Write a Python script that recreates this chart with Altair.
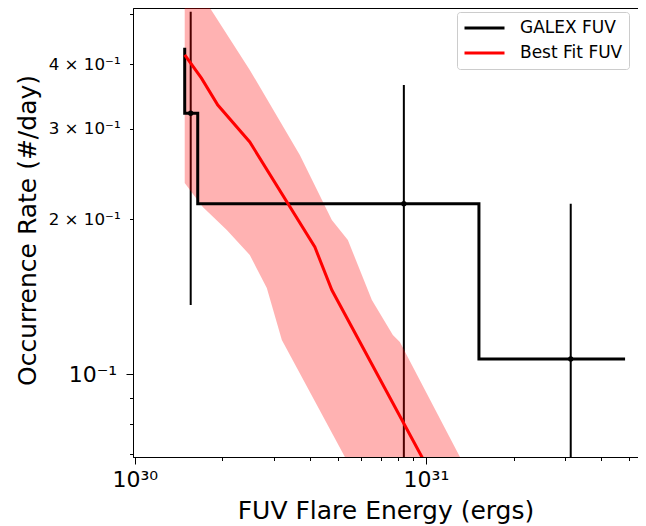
import altair as alt
import pandas as pd

# ---- data ----
# GALEX FUV cumulative frequency (step outline vertices)
step_energy = [1.485e30, 1.485e30, 1.646e30, 1.646e30, 1.521e31, 1.521e31, 4.83e31]
step_rate = [0.4306, 0.3213, 0.3213, 0.2145, 0.2145, 0.1071, 0.1071]

# GALEX FUV points with error bars
pt_energy = [1.557e30, 8.40e30, 3.143e31]
pt_rate = [0.3213, 0.2145, 0.1071]
pt_lo = [0.1363, 0.0645, 0.005]
pt_hi = [0.506, 0.3645, 0.2145]

# Best fit FUV curve
fit_energy = [1.485e30, 1.695e30, 1.929e30, 2.484e30, 4.155e30, 4.753e30, 9.69e30, 1.117e31]
fit_rate = [0.417, 0.376, 0.3333, 0.2826, 0.1767, 0.1458, 0.0691, 0.0596]

# Uncertainty band outline (upper edge left->right, then lower edge right->left)
band_energy = [1.485e30, 1.768e30, 2.484e30, 3.690e30, 4.753e30, 5.395e30, 6.523e30,
               7.70e30, 8.14e30, 1.309e31, 1.417e31, 5.70e30, 5.27e30, 3.201e30,
               2.842e30, 2.484e30, 2.071e30, 1.713e30, 1.485e30]
band_rate = [0.612, 0.526, 0.390, 0.2667, 0.1994, 0.1823, 0.1394, 0.1192, 0.1155,
             0.0691, 0.0635, 0.0635, 0.0691, 0.1166, 0.1471, 0.1705, 0.1906, 0.2113, 0.2352]

series_names = ["GALEX FUV", "Best Fit FUV"]
series_colors = ["#000000", "#ff0000"]

x_ticks = [1e30, 2e30, 3e30, 4e30, 5e30, 6e30, 7e30, 8e30, 9e30, 1e31, 2e31, 3e31, 4e31, 5e31]
y_ticks = [0.07, 0.08, 0.09, 0.1, 0.2, 0.3, 0.4, 0.5]
x_domain = [0.9866e30, 5.35e31]
y_domain = [0.0691, 0.5144]

# ---- tables ----
step_df = pd.DataFrame({"E": step_energy, "R": step_rate,
                        "i": list(range(len(step_energy))), "s": series_names[0]})
pt_df = pd.DataFrame({"E": pt_energy, "R": pt_rate, "lo": pt_lo, "hi": pt_hi})
fit_df = pd.DataFrame({"E": fit_energy, "R": fit_rate,
                       "i": list(range(len(fit_energy))), "s": series_names[1]})
band_df = pd.DataFrame({"E": band_energy, "R": band_rate, "i": list(range(len(band_energy)))})

FONT = "DejaVu Sans"

x_scale = alt.Scale(type="log", domain=x_domain, nice=False)
y_scale = alt.Scale(type="log", domain=y_domain, nice=False)

x_axis = alt.Axis(
    values=x_ticks,
    labelExpr="datum.value == 1e30 ? '10\u00b3\u2070' : datum.value == 1e31 ? '10\u00b3\u00b9' : ''",
    grid=False, labelOverlap=False, labelFlush=False,
    tickSize={"condition": {"test": "datum.value == 1e30 || datum.value == 1e31", "value": 7}, "value": 3.5},
    tickColor="black", tickWidth=1, domainColor="black", domainWidth=1,
    labelFont=FONT, labelFontSize=22, labelColor="black",
    labelBaseline="alphabetic", labelPadding=22,
    title="FUV Flare Energy (ergs)", titleFont=FONT, titleFontSize=25,
    titleFontWeight="normal", titleColor="black",
    titleBaseline="alphabetic", titleY=61,
)

y_axis = alt.Axis(
    values=y_ticks,
    labelExpr=("datum.value == 0.1 ? '10\u207b\u00b9' : "
               "datum.value == 0.2 ? '2 \u00d7 10\u207b\u00b9' : "
               "datum.value == 0.3 ? '3 \u00d7 10\u207b\u00b9' : "
               "datum.value == 0.4 ? '4 \u00d7 10\u207b\u00b9' : ''"),
    grid=False, labelOverlap=False, labelFlush=False,
    tickSize={"condition": {"test": "datum.value == 0.1", "value": 7}, "value": 3.5},
    labelFontSize={"condition": {"test": "datum.value == 0.1", "value": 22}, "value": 16.7},
    tickColor="black", tickWidth=1, domainColor="black", domainWidth=1,
    labelFont=FONT, labelColor="black", labelPadding=9.4,
    title="Occurrence Rate (#/day)", titleFont=FONT, titleFontSize=25,
    titleFontWeight="normal", titleColor="black",
    titleX=-98, titleY=222, titleAngle=270, titleAlign="center", titleBaseline="alphabetic",
)

X = alt.X("E:Q", scale=x_scale, axis=x_axis)
Y = alt.Y("R:Q", scale=y_scale, axis=y_axis)

color = alt.Color(
    "s:N",
    scale=alt.Scale(domain=series_names, range=series_colors),
    legend=alt.Legend(
        title=None, orient="none", legendX=324, legendY=4,
        symbolType="stroke", symbolSize=1600, symbolStrokeWidth=3,
        labelFont=FONT, labelFontSize=17, labelColor="black", labelOffset=14,
        padding=6, rowPadding=5, clipHeight=20,
        strokeColor="#cccccc", fillColor="white", cornerRadius=3,
    ),
)

errbars = alt.Chart(pt_df).mark_rule(color="black", strokeWidth=2, clip=True).encode(
    x=X, y=alt.Y("lo:Q", scale=y_scale, axis=y_axis), y2="hi:Q"
)

band = alt.Chart(band_df).mark_line(
    filled=True, fill="#ff0000", fillOpacity=0.3, strokeOpacity=0, clip=True
).encode(x=X, y=Y, order="i:Q")

points = alt.Chart(pt_df).mark_circle(color="black", size=28, opacity=1, clip=True).encode(x=X, y=Y)

step = alt.Chart(step_df).mark_line(strokeWidth=3, clip=True).encode(
    x=X, y=Y, order="i:Q", color=color
)

fit = alt.Chart(fit_df).mark_line(strokeWidth=3, clip=True).encode(
    x=X, y=Y, order="i:Q", color=color
)

chart = alt.layer(errbars, band, points, step, fit).properties(
    width=505, height=449,
    autosize=alt.AutoSizeParams(type="none"),
    padding={"left": 125, "top": 0, "right": 0, "bottom": 67},
).configure_view(stroke="black", strokeWidth=1)

chart.save("out.html", embed_options={"renderer": "svg", "actions": False})
